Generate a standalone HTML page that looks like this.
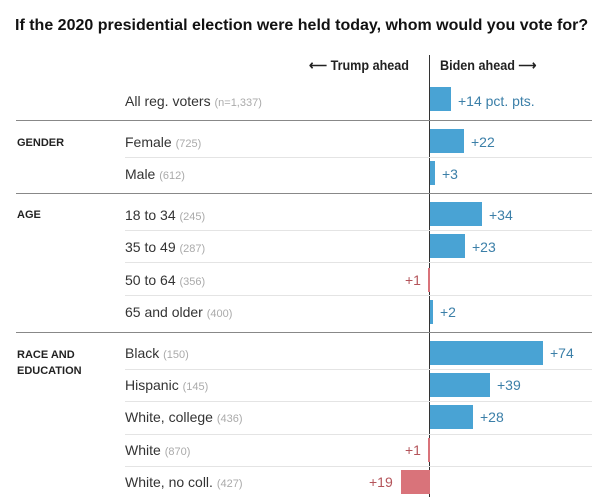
<!DOCTYPE html>
<html><head><meta charset="utf-8"><style>
body{margin:0;width:604px;height:497px;background:#fff;position:relative;overflow:hidden;font-family:"Liberation Sans",Arial,sans-serif;}
.a{position:absolute;}
.t{font-size:16px;font-weight:bold;color:#121212;left:15px;top:17px;white-space:nowrap;}
.hd{font-size:14px;font-weight:bold;color:#222;top:57px;white-space:nowrap;transform:scaleX(0.9);transform-origin:left;}
.lab{left:125px;font-size:14px;color:#333;white-space:nowrap;}
.n{font-size:11px;color:#aaa;}
.grp{left:17px;font-size:11px;font-weight:bold;color:#222;line-height:16px;}
.bar{background:#49a3d4;height:24px;}
.neg{background:#d9737a;height:24px;}
.v{font-size:14px;color:#3b7fa8;white-space:nowrap;}
.vr{font-size:14px;color:#b4545a;white-space:nowrap;}
.thick{height:1px;background:#888;left:16px;width:576px;}
.thin{height:1px;background:#e4e4e4;left:125px;width:467px;}
</style></head><body>
<div class="a t">If the 2020 presidential election were held today, whom would you vote for?</div>
<div class="a hd" style="left:309px;">⟵ Trump ahead</div>
<div class="a hd" style="left:440px;">Biden ahead ⟶</div>
<div class="a" style="left:429px;top:55px;width:1px;height:442px;background:#333;"></div>

<div class="a thick" style="top:120px"></div>
<div class="a thick" style="top:193px"></div>
<div class="a thick" style="top:332px"></div>
<div class="a thin" style="top:157px"></div>
<div class="a thin" style="top:230px"></div>
<div class="a thin" style="top:262px"></div>
<div class="a thin" style="top:295px"></div>
<div class="a thin" style="top:369px"></div>
<div class="a thin" style="top:401px"></div>
<div class="a thin" style="top:434px"></div>
<div class="a thin" style="top:466px"></div>

<div class="a grp" style="top:135px">GENDER</div>
<div class="a grp" style="top:207px">AGE</div>
<div class="a grp" style="top:347px">RACE AND<br>EDUCATION</div>

<div class="a lab" style="top:93px">All reg. voters <span class="n">(n=1,337)</span></div>
<div class="a lab" style="top:134px">Female <span class="n">(725)</span></div>
<div class="a lab" style="top:166px">Male <span class="n">(612)</span></div>
<div class="a lab" style="top:207px">18 to 34 <span class="n">(245)</span></div>
<div class="a lab" style="top:239px">35 to 49 <span class="n">(287)</span></div>
<div class="a lab" style="top:272px">50 to 64 <span class="n">(356)</span></div>
<div class="a lab" style="top:304px">65 and older <span class="n">(400)</span></div>
<div class="a lab" style="top:345px">Black <span class="n">(150)</span></div>
<div class="a lab" style="top:377px">Hispanic <span class="n">(145)</span></div>
<div class="a lab" style="top:409px">White, college <span class="n">(436)</span></div>
<div class="a lab" style="top:442px">White <span class="n">(870)</span></div>
<div class="a lab" style="top:474px">White, no coll. <span class="n">(427)</span></div>

<div class="a bar" style="left:430px;top:87px;width:21px"></div><div class="a v" style="left:458px;top:93px">+14 pct. pts.</div>
<div class="a bar" style="left:430px;top:129px;width:34px"></div><div class="a v" style="left:471px;top:134px">+22</div>
<div class="a bar" style="left:430px;top:161px;width:5px"></div><div class="a v" style="left:442px;top:166px">+3</div>
<div class="a bar" style="left:430px;top:202px;width:52px"></div><div class="a v" style="left:489px;top:207px">+34</div>
<div class="a bar" style="left:430px;top:234px;width:35px"></div><div class="a v" style="left:472px;top:239px">+23</div>
<div class="a neg" style="left:428px;top:268px;width:2px"></div><div class="a vr" style="left:405px;top:272px">+1</div>
<div class="a bar" style="left:430px;top:300px;width:3px"></div><div class="a v" style="left:440px;top:304px">+2</div>
<div class="a bar" style="left:430px;top:341px;width:113px"></div><div class="a v" style="left:550px;top:345px">+74</div>
<div class="a bar" style="left:430px;top:373px;width:60px"></div><div class="a v" style="left:497px;top:377px">+39</div>
<div class="a bar" style="left:430px;top:405px;width:43px"></div><div class="a v" style="left:480px;top:409px">+28</div>
<div class="a neg" style="left:428px;top:438px;width:2px"></div><div class="a vr" style="left:405px;top:442px">+1</div>
<div class="a neg" style="left:401px;top:470px;width:29px"></div><div class="a vr" style="left:369px;top:474px">+19</div>
</body></html>
